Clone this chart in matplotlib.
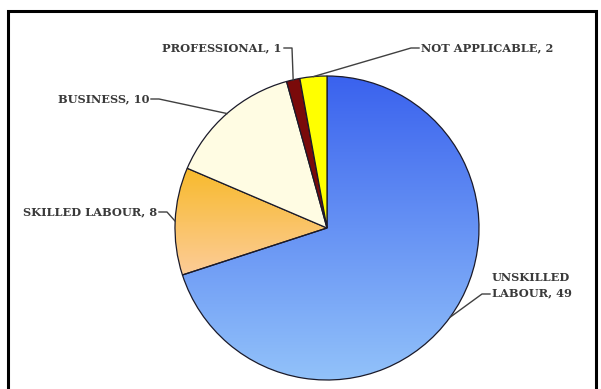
import numpy as np
import matplotlib.pyplot as plt
from matplotlib.colors import LinearSegmentedColormap
from matplotlib.patches import Rectangle

# Datos
categorias = ["UNSKILLED\nLABOUR", "SKILLED LABOUR", "BUSINESS", "PROFESSIONAL", "NOT APPLICABLE"]
valores = [49, 8, 10, 1, 2]
colores = ["#5F8FF2", "#F9C460", "#FFFCE3", "#7A0A0A", "#FFFF00"]
# degradados (arriba -> abajo) para las porciones que los tienen
degradados = {0: ("#3A62EE", "#92C2FA"), 1: ("#F8BA2C", "#FCCC98")}

# posiciones de las etiquetas (pixeles, y hacia arriba) y alineacion
pos_etiquetas = [(492, 104, "left"), (157, 177, "right"), (149, 290, "right"),
                 (282, 341, "right"), (421, 341, "left")]

W, H = 601, 389
fig = plt.figure(figsize=(W / 100, H / 100), dpi=100)
ax = fig.add_axes([0, 0, 1, 1])

centro = (327, 161)
radio = 152

wedges, _ = ax.pie(valores, colors=colores, startangle=90, counterclock=False,
                   center=centro, radius=radio, frame=True,
                   wedgeprops=dict(edgecolor="#1a1a2a", linewidth=0.9))

# degradados verticales recortados por la porcion
for i, (c_top, c_bot) in degradados.items():
    w = wedges[i]
    bb = w.get_path().get_extents(w.get_patch_transform())
    cmap = LinearSegmentedColormap.from_list("g%d" % i, [c_bot, c_top])
    grad = np.linspace(0, 1, 256).reshape(-1, 1)
    im = ax.imshow(grad, cmap=cmap, origin="lower", aspect="auto",
                   extent=(bb.x0, bb.x1, bb.y0, bb.y1), zorder=w.get_zorder() - 0.1)
    im.set_clip_path(w)
    w.set_facecolor("none")
ax.set_xlim(0, W)
ax.set_ylim(0, H)
ax.axis("off")

# etiquetas con lineas guia
for w, cat, val, (tx, ty, ha) in zip(wedges, categorias, valores, pos_etiquetas):
    ang = np.deg2rad((w.theta1 + w.theta2) / 2)
    px = centro[0] + radio * np.cos(ang)
    py = centro[1] + radio * np.sin(ang)
    ax.text(tx, ty, f"{cat}, {val}", ha=ha, va="center", fontsize=8.2,
            fontweight="bold", family="DejaVu Serif", color="#3a3a3a",
            linespacing=1.45)
    ly = ty - 9 if "\n" in cat else ty
    if ha == "right":
        x0, x1 = tx + 2, tx + 10
    else:
        x0, x1 = tx - 2, tx - 10
    ax.plot([x0, x1, px], [ly, ly, py], color="#404040", linewidth=1.0)

# marco
fig.patches.append(Rectangle((8 / W, -0.05), 588 / W, 1.05 - 11 / H,
                             transform=fig.transFigure, fill=False,
                             edgecolor="black", linewidth=2.2))

fig.savefig("out.png", dpi=100)
